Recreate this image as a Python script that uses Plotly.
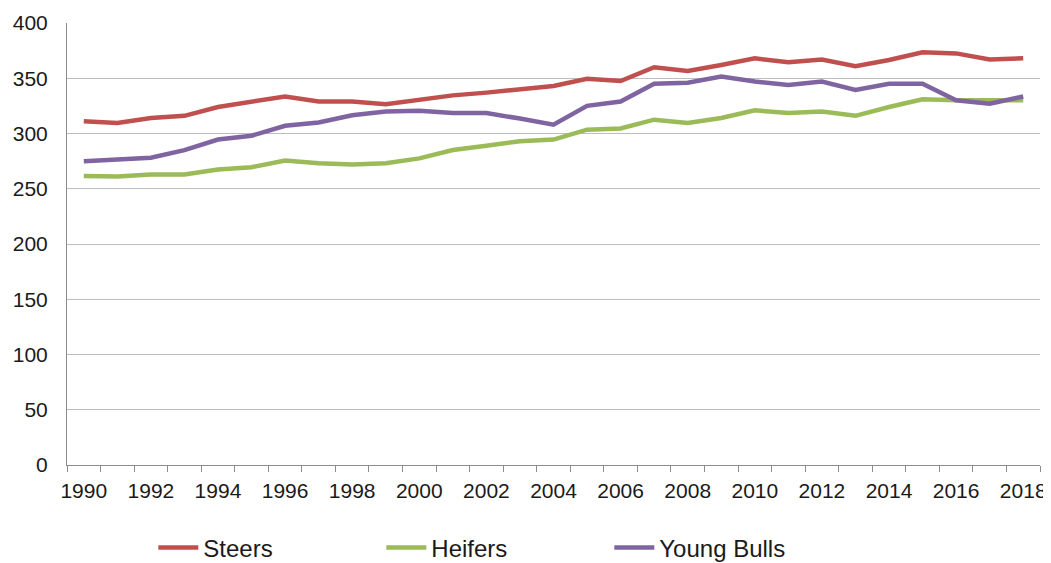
import plotly.graph_objects as go

years = list(range(1990, 2019))
steers = [311, 309.5, 314, 316, 324, 329, 333.5, 329, 329, 326.5, 331, 334.5, 337, 340, 343,
          349.5, 347.5, 360, 356.5, 362, 368, 364.5, 367, 361, 366.5, 373.5, 372.5, 367, 368]
heifers = [261.5, 261, 263, 263, 267.5, 269.5, 275.5, 273, 272, 273, 277.5, 285, 289, 293, 294.5,
           303.5, 304.5, 312.5, 309.5, 314, 321, 318.5, 320, 316, 324, 331, 330, 330, 330]
young_bulls = [275, 276, 278, 285, 294.5, 298, 307, 310, 316.5, 320, 320.5, 318.5, 318.5, 313.5, 308,
               325, 329, 345, 346, 351.5, 347, 344, 347, 339.5, 345, 345, 330, 327, 333.5]
series = [("Steers", steers, "#C0504D"),
          ("Heifers", heifers, "#9BBB59"),
          ("Young Bulls", young_bulls, "#8064A2")]
y_ticks = [0, 50, 100, 150, 200, 250, 300, 350, 400]
x_labels = list(range(1990, 2019, 2))

fig = go.Figure()
for name, vals, color in series:
    fig.add_trace(go.Scatter(x=years, y=vals, name=name, mode="lines",
                             line=dict(color=color, width=4.5)))

font = dict(family="Liberation Sans, Arial, sans-serif", size=21, color="#1a1a1a")
legend_font = dict(family="Liberation Sans, Arial, sans-serif", size=24, color="#1a1a1a")
fig.update_layout(
    width=1043, height=555,
    margin=dict(l=59, r=11, t=15, b=98),
    plot_bgcolor="white", paper_bgcolor="white",
    font=font,
    showlegend=True,
    legend=dict(orientation="h", x=0.0887, xanchor="left", xref="paper",
                y=0.027, yanchor="middle", yref="container",
                entrywidth=173, entrywidthmode="pixels", font=legend_font, itemwidth=40,
                traceorder="normal"),
    xaxis=dict(range=[1989.5, 2018.5], tickvals=x_labels, ticktext=[str(v) for v in x_labels],
               ticks="", showgrid=False, showline=True, linecolor="#8C8C8C", linewidth=1,
               ticklabelstandoff=7, zeroline=False, automargin=False,
               minor=dict(tickvals=[y + 0.5 for y in range(1989, 2019)], ticks="outside",
                          ticklen=6, tickcolor="#8C8C8C", showgrid=False)),
    yaxis=dict(range=[0, 400], tickvals=y_ticks, ticks="", showgrid=True, gridcolor="#BDBDBD",
               gridwidth=1, showline=True, linecolor="#8C8C8C", linewidth=1, zeroline=False,
               ticklabelstandoff=14, automargin=False),
)
fig.write_html("out.html")
